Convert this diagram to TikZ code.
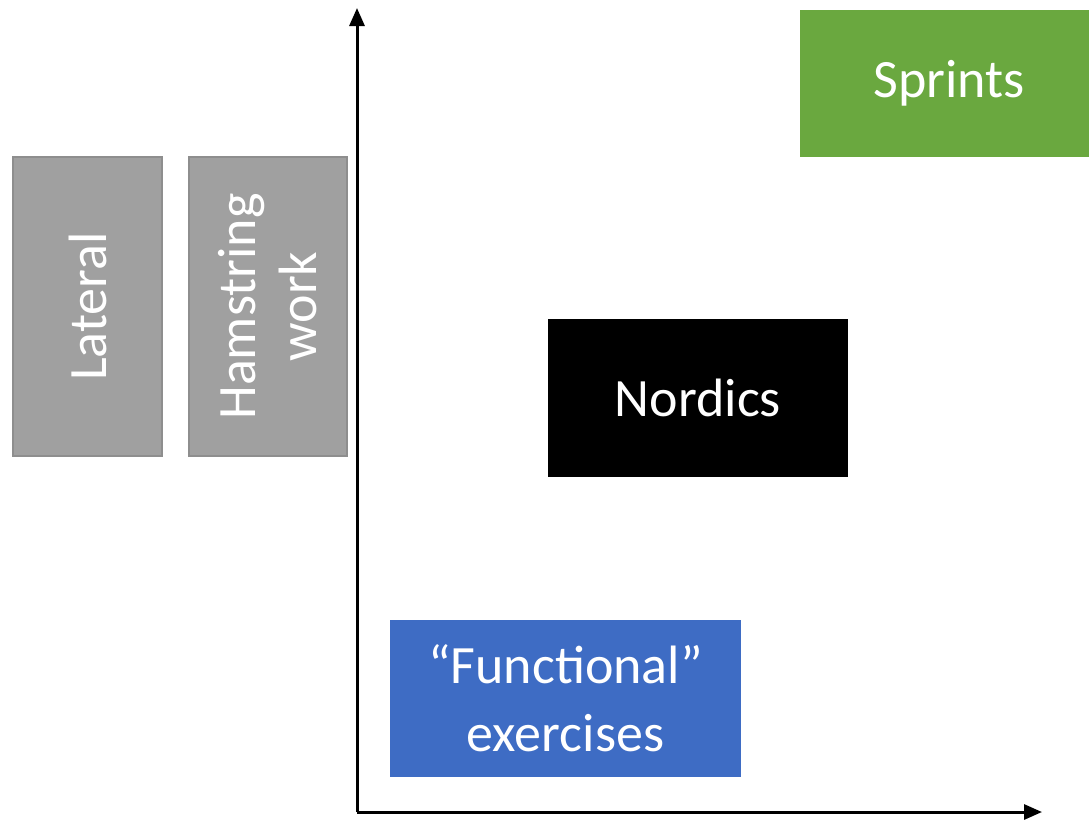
\documentclass[tikz,border=0pt]{standalone}
\usepackage{fontspec}
\setmainfont{Carlito}
\usetikzlibrary{arrows.meta}
\definecolor{boxgray}{HTML}{A0A0A0}
\definecolor{boxgrayline}{HTML}{8E8E8E}
\definecolor{boxgreen}{HTML}{6AA83F}
\definecolor{boxblue}{HTML}{3E6CC4}
\tikzset{
  bigtext/.style={font=\fontsize{54}{64}\selectfont, text=white, align=center, inner sep=0pt},
  graybox/.style={fill=boxgray, draw=boxgrayline, line width=1.5pt},
  axis/.style={line width=3pt, -{Triangle[length=18pt,width=15pt]}}
}
\begin{document}
\begin{tikzpicture}[x=1pt,y=-1pt]
\useasboundingbox (0,0) rectangle (1089,823);
% boxes
\fill[graybox] (13,157) rectangle (162,456);
\node[bigtext, rotate=90] (lat) at (87.5,306.5) {Lateral};
\fill[graybox] (189,157) rectangle (347,456);
\node[bigtext, rotate=90, font=\fontsize{54}{61}\selectfont] (ham) at (268,306.5) {Hamstring\\work};
\fill[boxgreen] (800,10) rectangle (1089,157);
\node[bigtext] (spr) at (949,83.5) {Sprints};
\fill[black] (548,319) rectangle (848,477);
\node[bigtext] (nor) at (698,398) {Nordics};
\fill[boxblue] (390,620) rectangle (741,777);
\node[bigtext, font=\fontsize{54}{68}\selectfont] (fun) at (565.5,698.5) {“Functional”\\exercises};
% axes
\coordinate (o) at (357,812);
\coordinate (ytop) at (357,8);
\coordinate (xend) at (1042,812);
\draw[axis] (o) -- (ytop);
\draw[axis] (o) -- (xend);
\end{tikzpicture}
\end{document}
